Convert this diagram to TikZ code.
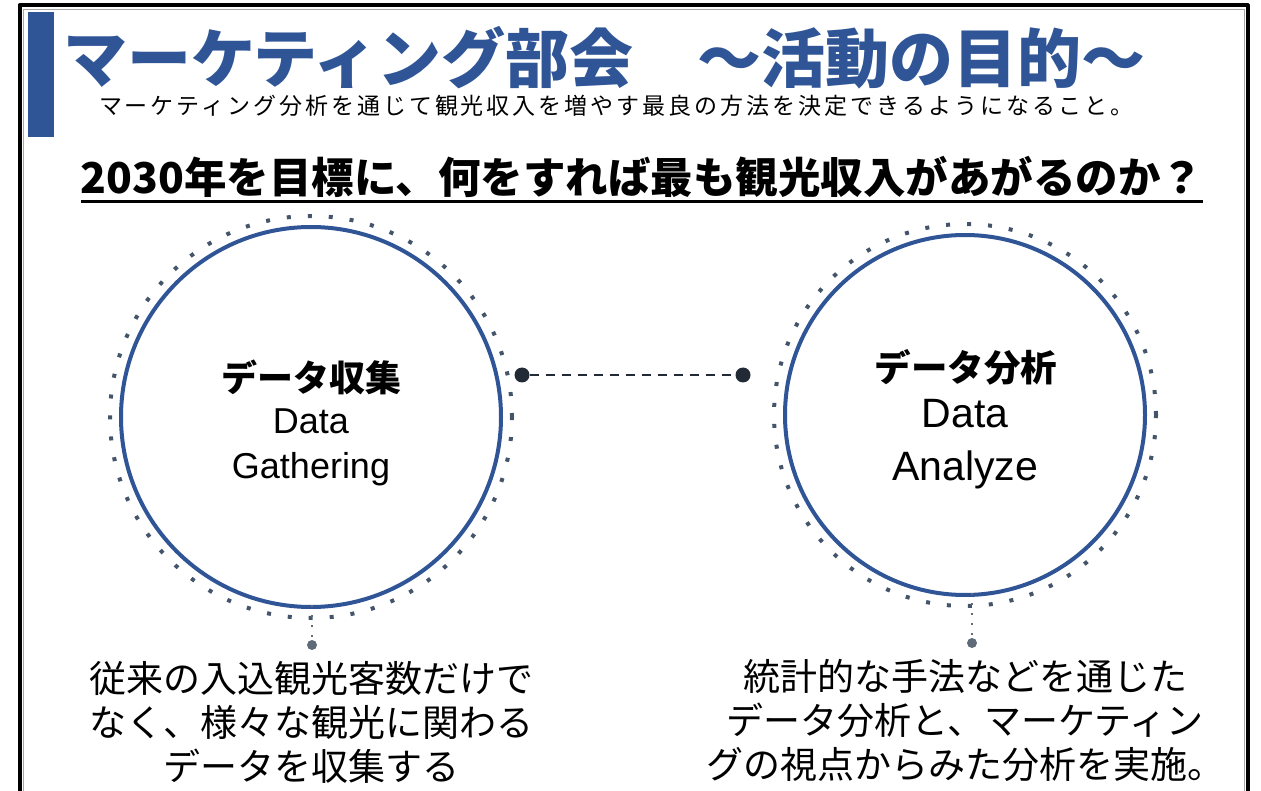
\documentclass[tikz,border=0pt]{standalone}
\usepackage{fontspec}
\setmainfont{Liberation Sans}
\newfontfamily\jp{Noto Sans CJK JP}
\newfontfamily\jpsp[LetterSpace=13]{Noto Sans CJK JP}
\definecolor{titleblue}{HTML}{2F5597}
\definecolor{dotgray}{HTML}{44546A}
\definecolor{darkdot}{HTML}{222A35}
\definecolor{balgray}{HTML}{5F6B78}
\begin{document}
\begin{tikzpicture}[x=1pt,y=-1pt,
  txt/.style={inner sep=0pt, outer sep=0pt},
  ring/.style={draw=titleblue, line width=4pt},
  dotring/.style={draw=dotgray, line width=4pt, dash pattern=on 4pt off 17pt},
  ball/.style={circle, fill=darkdot, inner sep=0pt, minimum size=15pt},
  smallball/.style={circle, fill=balgray, inner sep=0pt, minimum size=10pt},
  body/.style={txt, font=\jp\fontsize{37}{44}\selectfont, align=center}]
\useasboundingbox (0,0) rectangle (1261,791);
% frame
\draw[line width=4pt, line join=round] (19.5,795) -- (19.5,5.5) -- (1247.5,5.5) -- (1247.5,795);
\draw[black!35, line width=0.8pt] (23,795) -- (23,9.5) -- (1244,9.5) -- (1244,795);
% blue bar
\fill[titleblue] (28,12) rectangle (54,137);
% title
\node[txt, anchor=west, text=titleblue, font=\jp\bfseries\fontsize{64}{64}\selectfont] (title) at (63,58) {マーケティング部会　～活動の目的～};
\node[txt, anchor=west, font=\jpsp\fontsize{23}{23}\selectfont] (sub) at (99,106) {マーケティング分析を通じて観光収入を増やす最良の方法を決定できるようになること。};
% heading
\node[txt, font=\jp\bfseries\fontsize{42.5}{42.5}\selectfont] (head) at (642,177) {\textbf{2030}年を目標に、何をすれば最も観光収入があがるのか？};
\draw[line width=3pt] ([yshift=-8pt]head.base west) -- ([yshift=-8pt]head.base east);
% circles
\coordinate (c1) at (311,417);
\coordinate (c2) at (965,415);
\draw[dotring] (c1) circle (201pt);
\draw[ring] (c1) circle (190pt);
\draw[dotring] (c2) circle (191pt);
\draw[ring] (c2) circle (180pt);
% circle texts
\node[txt, font=\jp\bfseries\fontsize{36}{36}\selectfont] (l1) at (311,377) {データ収集};
\node[txt, anchor=base, font=\fontsize{36}{36}\selectfont] (l2) at (311,433) {Data};
\node[txt, anchor=base, font=\fontsize{36}{36}\selectfont] (l3) at (311,478) {Gathering};
\node[txt, font=\jp\bfseries\fontsize{36.5}{36.5}\selectfont] (r1) at (966,367) {データ分析};
\node[txt, anchor=base, font=\fontsize{41}{41}\selectfont] (r2) at (965,428) {Data};
\node[txt, anchor=base, font=\fontsize{41}{41}\selectfont] (r3) at (965,480) {Analyze};
% middle connector
\node[ball] (m1) at (522,375) {};
\node[ball] (m2) at (743,375) {};
\draw[darkdot, line width=2.5pt, dash pattern=on 9pt off 7pt] (m1) -- (m2);
% bottom connectors
\coordinate (b1) at (312,605);
\coordinate (b2) at (972,593);
\node[smallball] (s1) at (312,645) {};
\node[smallball] (s2) at (972,643) {};
\draw[balgray, line width=2pt, dash pattern=on 2pt off 8pt] (b1) -- (s1);
\draw[balgray, line width=2pt, dash pattern=on 2pt off 8pt] (b2) -- (s2);
% bottom texts
\node[body] (tl) at (311,722) {従来の入込観光客数だけで\\なく、様々な観光に関わる\\データを収集する};
\node[body] (tr) at (965,720) {統計的な手法などを通じた\\データ分析と、マーケティン\\グの視点からみた分析を実施。};
\end{tikzpicture}
\end{document}
